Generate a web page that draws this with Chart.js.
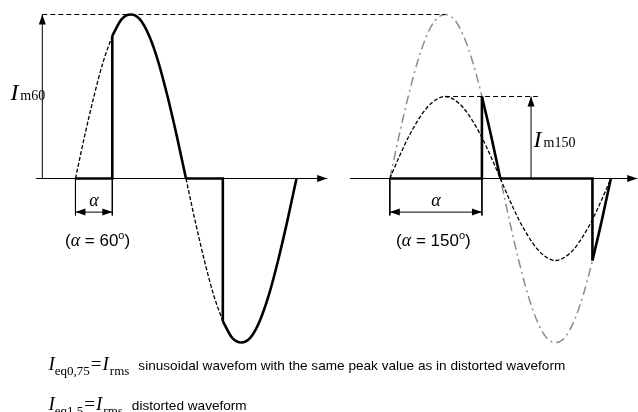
<!DOCTYPE html>
<html>
<head>
<meta charset="utf-8">
<script src="https://cdn.jsdelivr.net/npm/chart.js@4"></script>
<style>
  html, body { margin: 0; padding: 0; background: #ffffff; overflow: hidden; }
  canvas { display: block; }
</style>
</head>
<body>
<canvas id="chart" width="638" height="412"></canvas>
<script>
// Wave samples, one every 15 degrees over a full period
const angles = [0, 15, 30, 45, 60, 75, 90, 105, 120, 135, 150, 165, 180,
  195, 210, 225, 240, 255, 270, 285, 300, 315, 330, 345, 360];
const fullSine = [0, 0.26, 0.5, 0.71, 0.87, 0.97, 1, 0.97, 0.87, 0.71, 0.5, 0.26, 0,
  -0.26, -0.5, -0.71, -0.87, -0.97, -1, -0.97, -0.87, -0.71, -0.5, -0.26, 0];
const halfSine = [0, 0.13, 0.25, 0.35, 0.43, 0.48, 0.5, 0.48, 0.43, 0.35, 0.25, 0.13, 0,
  -0.13, -0.25, -0.35, -0.43, -0.48, -0.5, -0.48, -0.43, -0.35, -0.25, -0.13, 0];

// Firing angles of the two panels
const leftAlpha = 60;
const rightAlpha = 150;

// Text
const leftPeakLabel = "m60";
const rightPeakLabel = "m150";
const noteLines = [
  { sub: "eq0,75", text: "sinusoidal wavefom with the same peak value as in distorted waveform" },
  { sub: "eq1.5", text: "distorted waveform" },
];

// Layout (degrees on x, per-unit current on y)
const rightShift = 512;
const view = { xMin: -122.9, xMax: 916.2, yMin: -1.4238, yMax: 1.0884 };

const serif = '"Liberation Serif", "DejaVu Serif", serif';
const sans = '"Liberation Sans", Arial, sans-serif';

function valueAt(wave, angle) {
  return wave[angles.indexOf(angle)];
}

function wavePoints(wave, from, to, shift = 0) {
  return angles
    .map((a, i) => ({ x: a + shift, y: wave[i] }))
    .filter((p) => p.x - shift >= from && p.x - shift <= to);
}

function seg(points, shift = 0) {
  return points.map(([x, y]) => ({ x: x + shift, y: y }));
}

const leftPeak = Math.max(...fullSine);
const rightPeak = Math.max(...halfSine);

// Style helpers
function thick(data, curved) {
  return {
    data: data,
    borderColor: "#000",
    borderWidth: 2.6,
    tension: 0,
    cubicInterpolationMode: curved ? "monotone" : "default",
  };
}
function dashed(data, curved) {
  return {
    data: data,
    borderColor: "#000",
    borderWidth: 1.3,
    borderDash: [4, 2],
    cubicInterpolationMode: curved ? "monotone" : "default",
  };
}
function thin(data, arrow, dash) {
  return {
    data: data,
    borderColor: "#000",
    borderWidth: 1,
    borderDash: dash || [],
    arrow: arrow,
  };
}

const datasets = [
  // left panel, thick distorted waveform
  thick(seg([[0, 0], [leftAlpha, 0], [leftAlpha, valueAt(fullSine, leftAlpha)]])),
  thick(wavePoints(fullSine, leftAlpha, 180), true),
  thick(seg([[180, 0], [180 + leftAlpha, 0], [180 + leftAlpha, valueAt(fullSine, 180 + leftAlpha)]])),
  thick(wavePoints(fullSine, 180 + leftAlpha, 360), true),
  dashed(wavePoints(fullSine, 0, leftAlpha), true),
  dashed(wavePoints(fullSine, 180, 180 + leftAlpha), true),

  // right panel, thick distorted waveform
  thick(seg([[0, 0], [rightAlpha, 0], [rightAlpha, valueAt(fullSine, rightAlpha)]], rightShift)),
  thick(wavePoints(fullSine, rightAlpha, 180, rightShift), true),
  thick(seg([[180, 0], [180 + rightAlpha, 0], [180 + rightAlpha, valueAt(fullSine, 180 + rightAlpha)]], rightShift)),
  thick(wavePoints(fullSine, 180 + rightAlpha, 360, rightShift), true),
  dashed(wavePoints(halfSine, 0, 360, rightShift), true),

  // axes and dimension lines
  thin(seg([[-64, 0], [410, 0]]), "end"),
  thin(seg([[-65, 0], [403, 0]], rightShift), "end"),
  thin(seg([[-54, 0], [-54, leftPeak]]), "end"),
  thin(seg([[-54, leftPeak], [rightShift + 90, leftPeak]]), null, [5, 3]),
  thin(seg([[90, rightPeak], [241, rightPeak]], rightShift), null, [5, 3]),
  thin(seg([[230, 0], [230, rightPeak]], rightShift), "end"),
  thin(seg([[0, 0], [0, -0.225]])),
  thin(seg([[leftAlpha, 0], [leftAlpha, -0.225]])),
  thin(seg([[0, -0.205], [leftAlpha, -0.205]]), "both"),
  thin(seg([[0, 0], [0, -0.225]], rightShift)),
  thin(seg([[rightAlpha, 0], [rightAlpha, -0.225]], rightShift)),
  thin(seg([[0, -0.205], [rightAlpha, -0.205]], rightShift), "both"),

  // sinusoid with the same peak as the left waveform
  {
    data: wavePoints(fullSine, 0, 360, rightShift),
    borderColor: "#8c8c8c",
    borderWidth: 1.5,
    borderDash: [9, 4, 2, 4],
    cubicInterpolationMode: "monotone",
  },
];

function drawHead(ctx, from, tip, color) {
  const ang = Math.atan2(tip.y - from.y, tip.x - from.x);
  ctx.save();
  ctx.translate(tip.x, tip.y);
  ctx.rotate(ang);
  ctx.beginPath();
  ctx.moveTo(0, 0);
  ctx.lineTo(-10, -3.5);
  ctx.lineTo(-10, 3.5);
  ctx.closePath();
  ctx.fillStyle = color;
  ctx.fill();
  ctx.restore();
}

const arrowHeads = {
  id: "arrowHeads",
  afterDatasetsDraw(chart) {
    const ctx = chart.ctx;
    chart.data.datasets.forEach((ds, i) => {
      if (!ds.arrow) return;
      const pts = chart.getDatasetMeta(i).data;
      const n = pts.length;
      if (ds.arrow === "end" || ds.arrow === "both") drawHead(ctx, pts[n - 2], pts[n - 1], ds.borderColor);
      if (ds.arrow === "both") drawHead(ctx, pts[1], pts[0], ds.borderColor);
    });
  },
};

// Draw a run of text pieces, each with its own font and offset
function drawParts(ctx, x, y, parts, center) {
  let total = 0;
  parts.forEach((p) => {
    ctx.font = p.font;
    total += (p.dx || 0) + ctx.measureText(p.text).width;
  });
  let cx = center ? x - total / 2 : x;
  parts.forEach((p) => {
    ctx.font = p.font;
    cx += p.dx || 0;
    ctx.fillText(p.text, cx, y + (p.dy || 0));
    cx += ctx.measureText(p.text).width;
  });
}

const textLabels = {
  id: "textLabels",
  afterDraw(chart) {
    const ctx = chart.ctx;
    const xs = chart.scales.x;
    const ys = chart.scales.y;
    const px = (v) => xs.getPixelForValue(v);
    const py = (v) => ys.getPixelForValue(v);
    ctx.save();
    ctx.fillStyle = "#000";
    ctx.textBaseline = "alphabetic";
    ctx.textAlign = "left";

    // peak labels
    drawParts(ctx, px(-106), py(0.476), [
      { text: "I", font: `italic 24px ${serif}` },
      { text: leftPeakLabel, font: `14px ${serif}`, dx: 2 },
    ]);
    drawParts(ctx, px(rightShift + 234), py(0.19), [
      { text: "I", font: `italic 24px ${serif}` },
      { text: rightPeakLabel, font: `14px ${serif}`, dx: 2 },
    ]);

    // alpha dimension labels
    [[leftAlpha, 0, 36], [rightAlpha, rightShift, 71]].forEach(([a, shift, cx]) => {
      drawParts(ctx, px(shift + a / 2), py(-0.165), [{ text: "α", font: `italic 18px ${serif}` }], true);
      drawParts(ctx, px(shift + cx), py(-0.41), [
        { text: "(", font: `17px ${sans}` },
        { text: "α", font: `italic 18px ${serif}` },
        { text: " = " + a, font: `17px ${sans}` },
        { text: "o", font: `11px ${sans}`, dy: -7 },
        { text: ")", font: `17px ${sans}` },
      ], true);
    });

    // notes
    noteLines.forEach((line, i) => {
      drawParts(ctx, px(-44), py(-1.17 - i * 0.244), [
        { text: "I", font: `italic 19px ${serif}` },
        { text: line.sub, font: `13px ${serif}`, dy: 5 },
        { text: "=", font: `19px ${serif}`, dx: 1 },
        { text: "I", font: `italic 19px ${serif}`, dx: 1 },
        { text: "rms", font: `13px ${serif}`, dy: 5, dx: 1 },
        { text: line.text, font: `13.6px ${sans}`, dx: 9 },
      ]);
    });
    ctx.restore();
  },
};

new Chart(document.getElementById("chart").getContext("2d"), {
  type: "scatter",
  data: { datasets: datasets.map((d) => ({ showLine: true, pointRadius: 0, ...d })) },
  options: {
    responsive: false,
    animation: false,
    layout: { padding: 0 },
    elements: { point: { radius: 0, hoverRadius: 0 } },
    plugins: { legend: { display: false }, tooltip: { enabled: false } },
    scales: {
      x: { type: "linear", min: view.xMin, max: view.xMax, display: false },
      y: { type: "linear", min: view.yMin, max: view.yMax, display: false },
    },
  },
  plugins: [arrowHeads, textLabels],
});
</script>
</body>
</html>
